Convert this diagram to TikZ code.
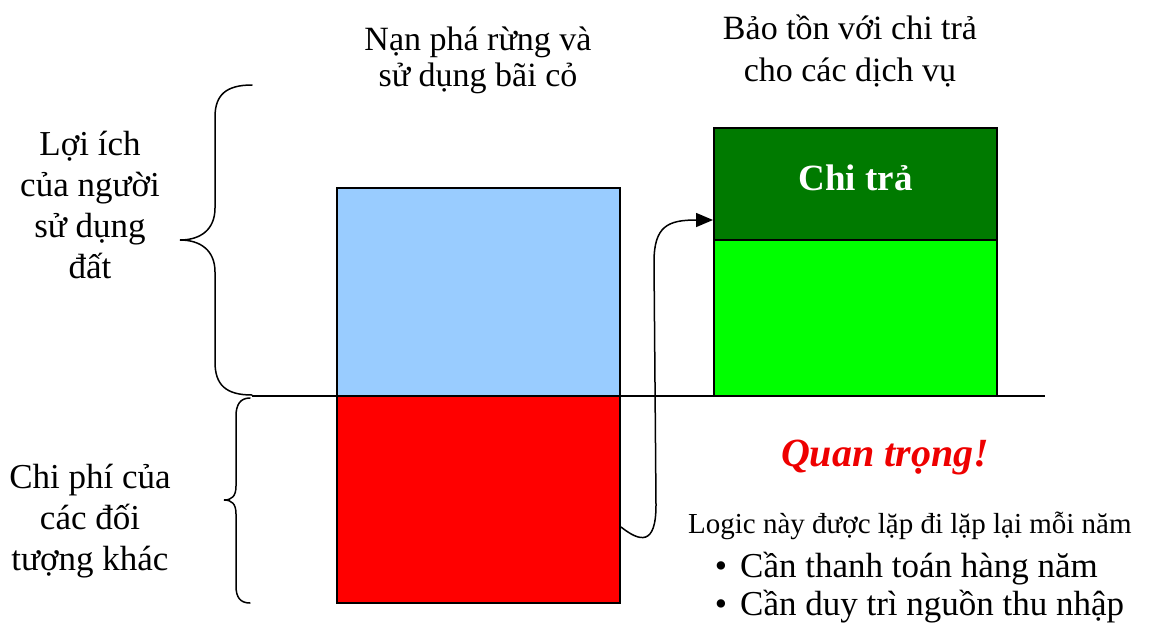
\documentclass[tikz,border=0pt]{standalone}
\usepackage{fontspec}
\setmainfont{Liberation Serif}
\usetikzlibrary{arrows.meta}
\definecolor{skyfill}{HTML}{99CCFF}
\definecolor{costfill}{HTML}{FF0000}
\definecolor{payfill}{HTML}{007A00}
\definecolor{keepfill}{HTML}{00FF00}
\definecolor{alertred}{HTML}{EE0000}
\begin{document}
\begin{tikzpicture}[x=1pt,y=-1pt,
  bar/.style={draw=black,line width=2pt,inner sep=0pt,minimum width=283pt},
  bigtext/.style={font=\fontsize{35}{41}\selectfont,align=center,inner sep=0pt},
  headtext/.style={font=\fontsize{34}{36}\selectfont,align=center,inner sep=0pt},
  bullettext/.style={font=\fontsize{35}{40}\selectfont,inner sep=0pt},
  curly/.style={line width=1.5pt,line cap=round},
  flow/.style={line width=1.5pt,-{Triangle[length=17pt,width=14pt]}}]
\useasboundingbox (0,0) rectangle (1158,624);

% stacked bars
\node[bar,fill=skyfill,minimum height=208pt] (benefit) at (478.5,292) {};
\node[bar,fill=costfill,minimum height=207pt] (cost) at (478.5,499.5) {};
\node[bar,fill=keepfill,minimum height=156pt] (keep) at (855.5,318) {};
\node[bar,fill=payfill,minimum height=112pt] (payment) at (855.5,184) {};
\node[font=\fontsize{37}{40}\selectfont\bfseries,text=white,inner sep=0pt]
  (paylabel) at ([yshift=6pt]payment.center) {Chi trả};

% zero line
\coordinate (axisL) at (252,396);
\coordinate (axisR) at (1045,396);
\draw[line width=1.5pt] (axisL) -- (axisR);

% column headings
\node[headtext] (headA) at (478,60) {Nạn phá rừng và\\sử dụng bãi cỏ};
\node[headtext,font=\fontsize{34}{42}\selectfont] (headB) at (850,51) {Bảo tồn với chi trả\\cho các dịch vụ};

% side labels and braces
\node[bigtext] (gainlbl) at (90,205) {Lợi ích\\của người\\sử dụng\\đất};
\node[bigtext] (losslbl) at (90,521) {Chi phí của\\các đối\\tượng khác};

\coordinate (bTop) at (252,85);
\coordinate (bBot) at (252,395);
\draw[curly] (bTop) .. controls (226,85) and (215,95) .. (215,117)
  -- (215,208) .. controls (215,230) and (200,240) .. (180,240)
  .. controls (200,240) and (215,250) .. (215,272)
  -- (215,362) .. controls (215,385) and (226,395) .. (bBot);

\coordinate (cTop) at (250,398);
\coordinate (cBot) at (250,603);
\draw[curly] (cTop) .. controls (240,398) and (236,405) .. (236,416)
  -- (236,486) .. controls (236,496) and (232,500) .. (224,500)
  .. controls (232,500) and (236,504) .. (236,514)
  -- (236,586) .. controls (236,597) and (240,603) .. (cBot);

% payment flow
\draw[flow] ([yshift=-27.5pt]cost.east) .. controls (640,542) and (656,546) .. (656,505)
  -- (654,262) .. controls (654,226) and (668,220) .. ([yshift=-36pt]payment.west);

% note
\node[font=\fontsize{40}{44}\selectfont\bfseries\itshape,text=alertred,anchor=base,inner sep=0pt]
  (alert) at (885,466) {Quan trọng!};
\node[font=\fontsize{29}{32}\selectfont,anchor=base west,inner sep=0pt]
  (logic) at (688,533) {Logic này được lặp đi lặp lại mỗi năm};
\node[bullettext,anchor=base] (dotA) at (721,577) {•};
\node[bullettext,anchor=base west] (needA) at (740,577) {Cần thanh toán hàng năm};
\node[bullettext,anchor=base] (dotB) at (721,615) {•};
\node[bullettext,anchor=base west] (needB) at (740,615) {Cần duy trì nguồn thu nhập};
\end{tikzpicture}
\end{document}
